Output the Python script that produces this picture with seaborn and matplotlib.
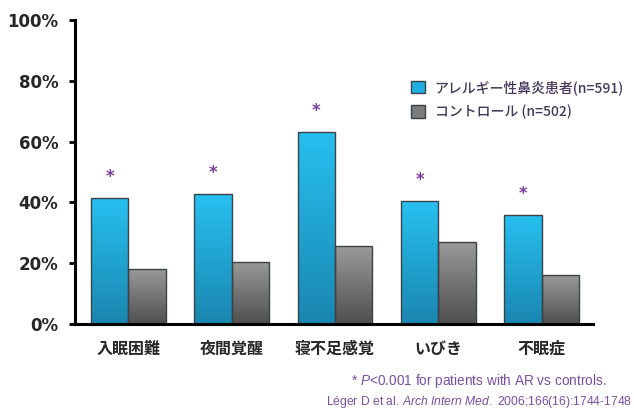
import numpy as np
import pandas as pd
import matplotlib
matplotlib.use("Agg")
import matplotlib.pyplot as plt
import seaborn as sns
from matplotlib.colors import LinearSegmentedColormap

categories = ["入眠困難", "夜間覚醒", "寝不足感覚", "いびき", "不眠症"]
series_names = ["アレルギー性鼻炎患者(n=591)", "コントロール (n=502)"]
ar_values = [41.5, 42.7, 63.2, 40.4, 35.9]
control_values = [18.2, 20.4, 25.5, 27.1, 16.1]
significant = [True, True, True, True, True]
y_ticks = [0, 20, 40, 60, 80, 100]
y_tick_labels = ["0%", "20%", "40%", "60%", "80%", "100%"]
footnote1 = r"* $\mathit{P}$<0.001 for patients with AR vs controls."
footnote2 = r"Léger D et al. $\mathit{Arch\ Intern\ Med.}$ 2006;166(16):1744-1748"

sns.set_theme(style="white")
plt.rcParams['font.family'] = ['DejaVu Sans', 'Noto Sans CJK JP']
plt.rcParams['mathtext.fontset'] = 'custom'
plt.rcParams['mathtext.it'] = 'Liberation Sans:italic'
plt.rcParams['mathtext.rm'] = 'Liberation Sans'

df = pd.DataFrame({
    "category": categories * 2,
    "group": [series_names[0]] * len(categories) + [series_names[1]] * len(categories),
    "value": ar_values + control_values,
})

blue = "#1FAEE2"
gray = "#7C7C7C"
fig = plt.figure(figsize=(6.34, 4.15), dpi=100)
ax = fig.add_axes([75/634, 1-324/415, (593-75)/634, (324-20)/415])

sns.barplot(data=df, x="category", y="value", hue="group", order=categories,
            hue_order=series_names, palette=[blue, gray], width=0.724, gap=0,
            edgecolor="#3a4348", linewidth=1.0, ax=ax, legend=True)

# gradient fill clipped to bars
grad_maps = {
    blue: LinearSegmentedColormap.from_list("b", ["#1A86B0", "#27C0F0"]),
    gray: LinearSegmentedColormap.from_list("g", ["#4F4F4F", "#9A9A9A"]),
}
grad = np.linspace(0, 1, 256).reshape(-1, 1)
bar_patches = [p for p in ax.patches if p.get_height() > 0]
for i, p in enumerate(bar_patches):
    cmap = grad_maps[blue] if i < len(categories) else grad_maps[gray]
    x0, y0 = p.get_x(), p.get_y()
    w, h = p.get_width(), p.get_height()
    im = ax.imshow(grad, cmap=cmap, origin="lower", aspect="auto",
                   extent=[x0, x0 + w, y0, y0 + h], zorder=p.get_zorder() - 0.1)
    im.set_clip_path(p)
    p.set_facecolor("none")

ax.set_xlim(-0.516, 4.496)
ax.set_ylim(0, 100)

# significance stars
for i, (v, sig) in enumerate(zip(ar_values, significant)):
    if sig:
        ax.text(i - 0.181, v + 4.0, "*", ha="center", va="bottom",
                color="#7B3F9E", fontsize=12, fontweight="bold")

ax.set_yticks(y_ticks)
ax.set_yticklabels(y_tick_labels, fontsize=12, fontweight="bold")
ax.tick_params(axis="y", left=True, length=4, width=2, color="black", pad=8)
ax.tick_params(axis="x", bottom=False, pad=6)
for lab in ax.get_xticklabels():
    lab.set_family(["Noto Sans CJK JP"])
    lab.set_fontweight("bold")
    lab.set_fontsize(11.5)
ax.set_xlabel("")
ax.set_ylabel("")

for s in ["top", "right"]:
    ax.spines[s].set_visible(False)
for s in ["left", "bottom"]:
    ax.spines[s].set_linewidth(2.2)
    ax.spines[s].set_color("black")

handles, labels = ax.get_legend_handles_labels()
leg = ax.legend(handles, labels, loc="upper left", bbox_to_anchor=(404/634, 1-73/415),
                bbox_transform=fig.transFigure, frameon=False, handlelength=1.0,
                handleheight=1.0, handletextpad=0.7, labelspacing=0.7, borderpad=0,
                prop={"family": ["Noto Sans CJK JP"], "size": 10, "weight": "medium"})
for t in leg.get_texts():
    t.set_color("#45385A")
for h, c in zip(leg.legend_handles, [blue, gray]):
    h.set_facecolor(c)
    h.set_edgecolor("#3a4348")

fig.text(607/634, 1-381/415, footnote1, ha="right", va="center", color="#7A4FA3",
         fontsize=9.8, family=["Liberation Sans Narrow", "Liberation Sans"])
fig.text(632/634, 1-402/415, footnote2, ha="right", va="center", color="#7A4FA3",
         fontsize=8.7, family=["Liberation Sans Narrow", "Liberation Sans"])

fig.savefig("out.png", dpi=100, facecolor="white")
